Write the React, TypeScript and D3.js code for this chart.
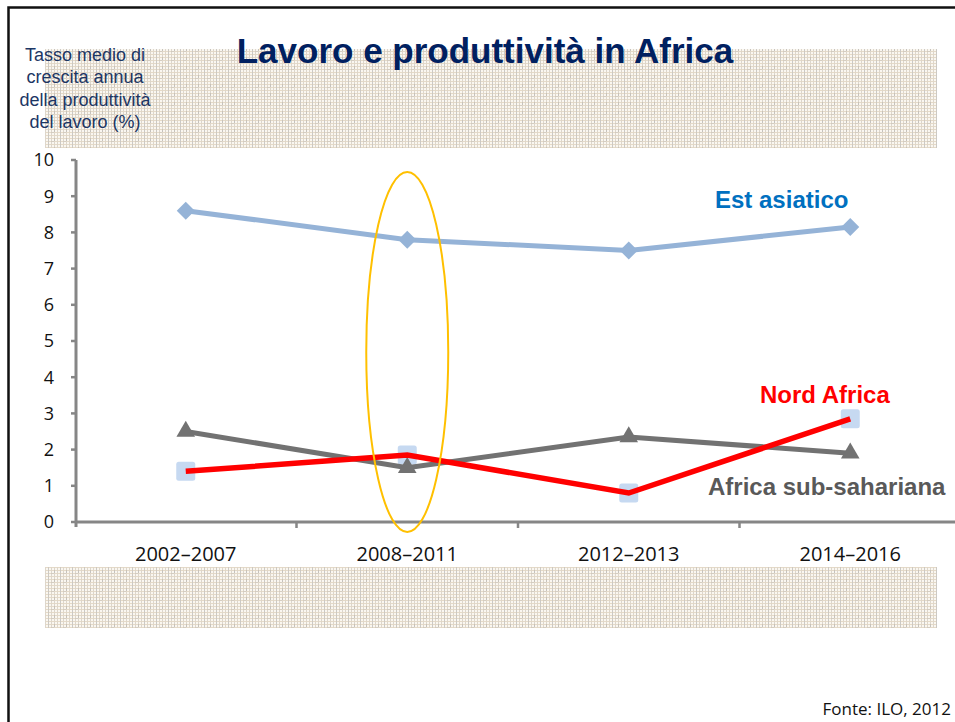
import React from "react";
import * as d3 from "d3";

const categories = ["2002–2007", "2008–2011", "2012–2013", "2014–2016"];
const estAsiatico = [8.6, 7.8, 7.5, 8.15];
const subSahariana = [2.5, 1.5, 2.35, 1.9];
const nordAfrica = [1.4, 1.85, 0.8, 2.85];
const yTicks = [0, 1, 2, 3, 4, 5, 6, 7, 8, 9, 10];
const yLabelLines = ["Tasso medio di", "crescita annua", "della produttività", "del lavoro (%)"];
const title = "Lavoro e produttività in Africa";
const source = "Fonte: ILO, 2012";
const highlighted = "2008–2011";

const W = 955;
const H = 722;

export default function App() {
  const x = d3.scaleBand<string>().domain(categories).range([75, 961]);
  const y = d3.scaleLinear().domain([0, 10]).range([522, 160]);
  const cx = (c: string) => (x(c) ?? 0) + x.bandwidth() / 2;

  const line = d3
    .line<number>()
    .x((_, i) => cx(categories[i]))
    .y((d) => y(d));

  const diamond = d3.symbol(d3.symbolSquare, 162)() || "";
  const triangle = d3.symbol(d3.symbolTriangle, 150)() || "";

  const sans = "'Liberation Sans', Arial, sans-serif";
  const open = "'Open Sans', 'Noto Sans', sans-serif";

  const boundaries = categories.slice(1).map((c) => x(c) ?? 0);

  return (
    <svg
      width={W}
      height={H}
      style={{ position: "absolute", left: 0, top: 0, background: "#fff" }}
    >
      <defs>
        <pattern id="tex" width="3" height="3" patternUnits="userSpaceOnUse">
          <rect width="3" height="3" fill="#faf7f1" />
          <rect x="0" y="0" width="3" height="1" fill="#e6dac6" />
          <rect x="0" y="0" width="1" height="3" fill="#ddd6cb" />
        </pattern>
        <pattern id="tex2" width="12" height="9" patternUnits="userSpaceOnUse">
          <rect x="0" y="0" width="1" height="9" fill="#bdbdbd" opacity="0.55" />
          <rect x="6" y="3" width="1" height="3" fill="#aaaaaa" opacity="0.45" />
          <rect x="3" y="6" width="3" height="1" fill="#b5b5b5" opacity="0.35" />
        </pattern>
      </defs>

      {/* frame */}
      <path d={`M8.5,${H + 5} V7.5 H${W + 5}`} fill="none" stroke="#111" strokeWidth={2.5} />

      {/* textured bands */}
      <rect x={45} y={49} width={892} height={99} fill="url(#tex)" />
      <rect x={45} y={49} width={892} height={99} fill="url(#tex2)" />
      <rect x={45} y={567} width={892} height={61} fill="url(#tex)" />
      <rect x={45} y={567} width={892} height={61} fill="url(#tex2)" />

      {/* title */}
      <text
        x={485}
        y={63}
        textAnchor="middle"
        fontFamily={sans}
        fontWeight="bold"
        fontSize={35}
        fill="#002060"
      >
        {title}
      </text>

      {/* y axis label */}
      {yLabelLines.map((t, i) => (
        <text
          key={t}
          x={85}
          y={61 + i * 22.3}
          textAnchor="middle"
          fontFamily={sans}
          fontSize={18}
          fill="#1c3664"
        >
          {t}
        </text>
      ))}

      {/* axes */}
      <line x1={76} x2={76} y1={y(10)} y2={527} stroke="#868686" strokeWidth={3} />
      {yTicks.map((t) => (
        <g key={t}>
          <line x1={71} x2={76} y1={y(t)} y2={y(t)} stroke="#868686" strokeWidth={2.5} />
          <text
            x={54}
            y={y(t)}
            dy="0.36em"
            textAnchor="end"
            fontFamily={open}
            fontSize={18}
            fill="#111"
          >
            {t}
          </text>
        </g>
      ))}
      <line x1={75} x2={961} y1={y(0)} y2={y(0)} stroke="#868686" strokeWidth={3} />
      {boundaries.map((b, i) => (
        <line key={i} x1={b} x2={b} y1={y(0)} y2={528} stroke="#868686" strokeWidth={2.5} />
      ))}
      {categories.map((c) => (
        <text
          key={c}
          x={cx(c)}
          y={561}
          textAnchor="middle"
          fontFamily={open}
          fontSize={20}
          fill="#111"
        >
          {c}
        </text>
      ))}

      {/* Est asiatico */}
      <path d={line(estAsiatico) || ""} fill="none" stroke="#95b3d7" strokeWidth={5} />
      {estAsiatico.map((v, i) => (
        <path
          key={i}
          d={diamond}
          transform={`translate(${cx(categories[i])},${y(v)}) rotate(45)`}
          fill="#95b3d7"
        />
      ))}

      {/* Nord Africa markers */}
      {nordAfrica.map((v, i) => (
        <rect
          key={i}
          x={cx(categories[i]) - 9.5}
          y={y(v) - 9.5}
          width={19}
          height={19}
          rx={2.5}
          fill="#c6d9f1"
        />
      ))}

      {/* Africa sub-sahariana */}
      <path d={line(subSahariana) || ""} fill="none" stroke="#727272" strokeWidth={5} />
      {subSahariana.map((v, i) => (
        <path
          key={i}
          d={triangle}
          transform={`translate(${cx(categories[i])},${y(v)})`}
          fill="#727272"
        />
      ))}

      {/* Nord Africa line */}
      <path d={line(nordAfrica) || ""} fill="none" stroke="#ff0000" strokeWidth={5.5} />

      {/* highlight ellipse */}
      <ellipse
        cx={cx(highlighted)}
        cy={352}
        rx={41}
        ry={180}
        fill="none"
        stroke="#ffc000"
        strokeWidth={2}
      />

      {/* series labels */}
      <text x={715} y={208} fontFamily={sans} fontWeight="bold" fontSize={24} fill="#0070c0">
        Est asiatico
      </text>
      <text x={760} y={403} fontFamily={sans} fontWeight="bold" fontSize={24} fill="#ff0000">
        Nord Africa
      </text>
      <text x={708} y={495} fontFamily={sans} fontWeight="bold" fontSize={24} fill="#595959">
        Africa sub-sahariana
      </text>

      {/* source */}
      <text x={951} y={715} textAnchor="end" fontFamily={open} fontSize={17} fill="#111">
        {source}
      </text>
    </svg>
  );
}
